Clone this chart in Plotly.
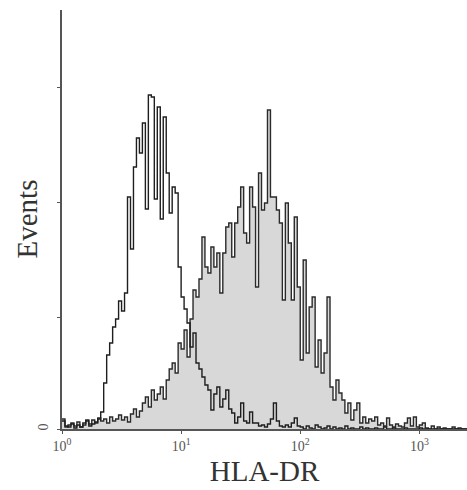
import numpy as np
import plotly.graph_objects as go

# Histogram channels: lower edge of each bin in decades (log10 of fluorescence)
bin_step = 0.025
# Isotype control (open histogram), events per channel
control_counts = [
    8, 3, 2, 5, 1, 4, 2, 6, 9, 3,
    5, 7, 10, 17, 46, 74, 86, 102, 110, 128,
    118, 136, 232, 180, 262, 291, 276, 306, 220, 334,
    332, 230, 322, 210, 312, 256, 216, 242, 236, 162,
    132, 120, 106, 82, 96, 66, 60, 52, 44, 39,
    19, 35, 42, 22, 30, 39, 20, 16, 6, 12,
    26, 8, 6, 17, 6, 6, 3, 4, 2, 5,
    10, 26, 8, 3, 2, 4, 2, 6, 11, 3,
    2, 0, 3, 1, 0, 4, 2, 0, 1, 3,
    0, 2, 0, 1, 0, 3, 0, 1, 0, 0,
    2, 0, 1, 0, 0, 1, 0, 0, 2, 0,
    0, 1, 0, 0, 0, 1, 0, 0, 0, 0,
    1, 0, 0, 0, 0, 0, 0, 0, 0, 0,
    0, 0, 0, 0, 0, 0,
]
# HLA-DR stained (filled histogram), events per channel
hladr_counts = [
    10, 2, 4, 6, 3, 7, 2, 4, 8, 5,
    9, 6, 11, 8, 10, 6, 12, 8, 10, 14,
    9, 12, 7, 15, 20, 12, 18, 26, 32, 22,
    39, 29, 35, 42, 30, 49, 60, 66, 56, 86,
    80, 99, 72, 110, 139, 132, 150, 192, 162, 156,
    182, 162, 176, 136, 176, 202, 206, 172, 206, 222,
    242, 196, 186, 242, 222, 142, 256, 219, 226, 319,
    232, 232, 219, 206, 129, 226, 186, 129, 212, 142,
    69, 169, 76, 122, 132, 62, 89, 56, 76, 132,
    42, 29, 49, 36, 29, 16, 26, 9, 19, 26,
    6, 12, 6, 10, 8, 12, 4, 6, 3, 11,
    4, 2, 5, 3, 2, 6, 11, 3, 12, 2,
    4, 6, 1, 0, 3, 0, 2, 0, 1, 0,
    0, 2, 0, 1, 0, 0,
]
x_tick_vals = [1, 10, 100, 1000]
x_tick_text = ["10<sup>0</sup>", "10<sup>1</sup>", "10<sup>2</sup>", "10<sup>3</sup>"]
y_tick_vals = [0]
y_tick_text = ["0"]
y_minor_vals = [112, 227, 342]

n = len(control_counts)
edges = 10 ** (np.arange(n + 1) * bin_step)
ctrl_y = list(control_counts) + [control_counts[-1]]
hla_y = list(hladr_counts) + [hladr_counts[-1]]

SERIF = "Liberation Serif, Times New Roman, serif"

fig = go.Figure()
fig.add_trace(go.Scatter(
    x=edges, y=hla_y, mode="lines", line_shape="hv",
    line=dict(color="#2a2a2a", width=1.4),
    fill="tozeroy", fillcolor="#d8d8d8", hoverinfo="skip",
))
fig.add_trace(go.Scatter(
    x=edges, y=ctrl_y, mode="lines", line_shape="hv",
    line=dict(color="#1e1e1e", width=1.4), hoverinfo="skip",
))

fig.update_layout(
    width=467, height=490,
    margin=dict(l=62, r=0, t=10, b=61),
    paper_bgcolor="white", plot_bgcolor="white",
    showlegend=False,
    font=dict(family=SERIF, color="#333333"),
    xaxis=dict(
        type="log", range=[0, 3.4], automargin=False,
        tickvals=x_tick_vals, ticktext=x_tick_text,
        tickfont=dict(size=14, color="#555555"),
        ticks="outside", ticklen=3, tickcolor="#555555",
        showline=True, linecolor="#555555", linewidth=1.5,
        showgrid=False, zeroline=False,
        title=dict(text="HLA-DR", font=dict(size=29, color="#333333"), standoff=8),
    ),
    yaxis=dict(
        range=[0, 419], automargin=False,
        tickvals=y_tick_vals, ticktext=y_tick_text,
        tickangle=-90, ticklabelstandoff=4,
        tickfont=dict(size=14, color="#555555"),
        ticks="outside", ticklen=3, tickcolor="#555555",
        minor=dict(tickvals=y_minor_vals, ticks="outside", ticklen=3,
                   tickcolor="#555555", showgrid=False),
        showline=True, linecolor="#555555", linewidth=1.5,
        showgrid=False, zeroline=False,
    ),
    annotations=[dict(
        text="Events", textangle=-90,
        xref="paper", yref="paper", x=(26 - 62) / 405, y=0.5,
        xanchor="center", yanchor="middle", showarrow=False,
        font=dict(size=29, color="#333333", family=SERIF),
    )],
)

fig.write_html("out.html", config={"displayModeBar": False},
               post_script="document.body.style.margin='0px';")
